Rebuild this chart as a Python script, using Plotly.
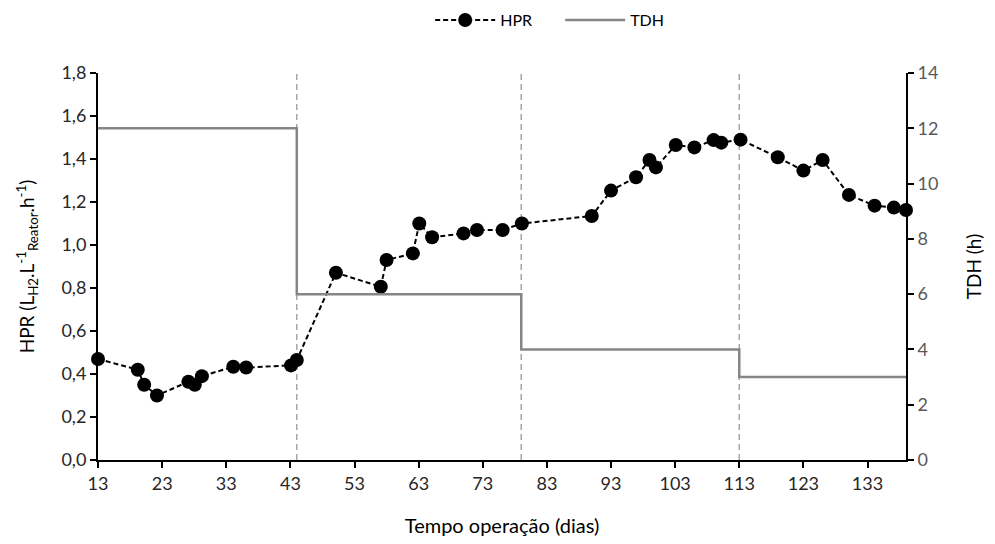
import plotly.graph_objects as go

# HPR data (day, L_H2 / L_reactor / h)
hpr_days = [13, 19.2, 20.2, 22.2, 27.1, 28.1, 29.2, 34.1, 36.1, 43.1, 44.0,
            50.1, 57.1, 58.0, 62.1, 63.1, 65.1, 70.0, 72.1, 76.1, 79.1,
            90.0, 93.0, 96.9, 99.0, 100.0, 103.1, 106.0, 109.0, 110.2, 113.2,
            119.0, 123.0, 126.0, 130.1, 134.1, 137.1, 139.0]
hpr_vals = [0.47, 0.42, 0.35, 0.30, 0.364, 0.35, 0.39, 0.434, 0.43, 0.44, 0.465,
            0.871, 0.806, 0.93, 0.961, 1.10, 1.036, 1.054, 1.07, 1.07, 1.10,
            1.135, 1.253, 1.315, 1.395, 1.361, 1.465, 1.454, 1.488, 1.476, 1.49,
            1.408, 1.346, 1.395, 1.233, 1.183, 1.174, 1.163]

# TDH (hydraulic retention time, h) step profile
tdh_days = [13, 44, 79, 113, 139]
tdh_vals = [12, 6, 4, 3, 3]

phase_changes = [44, 79, 113]

x_ticks = list(range(13, 134, 10))
y_ticks = [0, 0.2, 0.4, 0.6, 0.8, 1.0, 1.2, 1.4, 1.6, 1.8]
y2_ticks = [0, 2, 4, 6, 8, 10, 12, 14]

FONT = "Lato, 'Open Sans', sans-serif"

fig = go.Figure()
fig.add_trace(go.Scatter(
    x=tdh_days, y=tdh_vals, name="TDH", yaxis="y2", mode="lines",
    line=dict(color="#868686", width=2.5, shape="hv"), legendrank=2,
    cliponaxis=False))
fig.add_trace(go.Scatter(
    x=hpr_days, y=hpr_vals, name="HPR", mode="lines+markers",
    line=dict(color="black", width=2, dash="5px,3px"),
    marker=dict(color="black", size=14), legendrank=1, cliponaxis=False))

for d in phase_changes:
    fig.add_shape(type="line", x0=d, x1=d, xref="x", y0=0, y1=1, yref="paper",
                  line=dict(color="#a6a6a6", width=1.5, dash="6px,4px"),
                  layer="below")

fig.update_layout(
    width=995, height=544,
    margin=dict(l=98, r=89, t=73, b=84, autoexpand=False),
    paper_bgcolor="white", plot_bgcolor="white",
    separators=",.",
    font=dict(family=FONT, size=18, color="black"),
    showlegend=True,
    legend=dict(orientation="h", x=0.572, xanchor="center", yref="container",
                y=0.963, yanchor="middle", font=dict(size=16), itemwidth=60,
                entrywidth=55, traceorder="normal"),
    xaxis=dict(range=[13, 139], tickvals=x_ticks, showline=True,
               linecolor="black", linewidth=2, ticks="outside", ticklen=6,
               tickwidth=2, tickcolor="black", showgrid=False, zeroline=False,
               title=dict(text="Tempo operação (dias)", font=dict(size=20),
                          standoff=26),
               tickfont=dict(size=18, color="#262626")),
    yaxis=dict(range=[0, 1.8], tickvals=y_ticks, tickformat=".1f",
               showline=True, linecolor="black", linewidth=2, ticks="outside",
               ticklen=6, tickwidth=2, tickcolor="black", showgrid=False,
               zeroline=False,
               title=dict(text="HPR (L<sub>H2</sub>.L<sup>-1</sup><sub>Reator</sub>.h<sup>-1</sup>)",
                          font=dict(size=19), standoff=22),
               tickfont=dict(size=18, color="#262626")),
    yaxis2=dict(range=[0, 14], tickvals=y2_ticks, overlaying="y", side="right",
                showline=True, linecolor="black", linewidth=2, ticks="outside",
                ticklen=6, tickwidth=2, tickcolor="black", showgrid=False,
                zeroline=False,
                title=dict(text="TDH (h)", font=dict(size=19), standoff=30),
                tickfont=dict(size=18, color="#595959")),
)

fig.write_html("out.html")
